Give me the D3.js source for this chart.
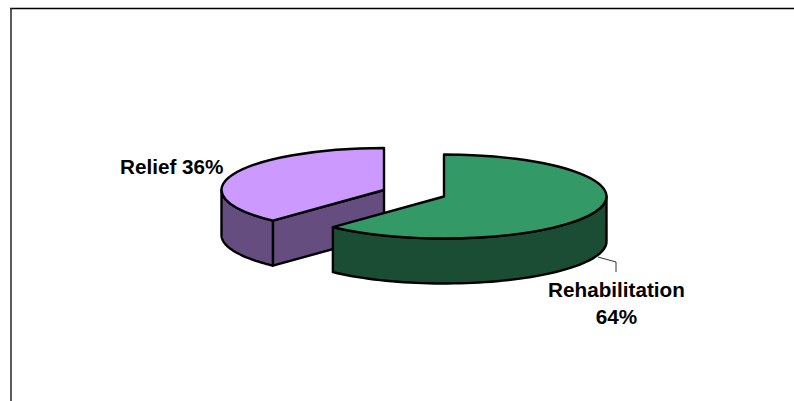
<!DOCTYPE html>
<html>
<head>
<meta charset="utf-8">
<script src="https://cdn.jsdelivr.net/npm/d3@7"></script>
<style>
  html, body { margin: 0; padding: 0; background: #fff; overflow: hidden; }
  svg { display: block; }
  text { font-family: "Liberation Sans", Arial, sans-serif; font-weight: bold; font-size: 20.7px; fill: #000; }
</style>
</head>
<body>
<script>
var categories = ["Rehabilitation", "Relief"];
var shares = [64, 36];
var topColors = ["#339966", "#CC99FF"];
var wallColors = ["#1A4D33", "#664D80"];

var W = 794, H = 401;
var rx = 162.5, ry = 42, depth = 45;
var centers = [[444, 196.5], [384, 190]]; //slices are pulled apart
var squash = 0.775; //foreshortening of angles on the tilted disc

var svg = d3.select("body").append("svg")
    .attr("width", W)
    .attr("height", H);

//frame around the chart area, only top and left edges show
svg.append("line").attr("x1", 10).attr("x2", W).attr("y1", 8.5).attr("y2", 8.5)
    .attr("stroke", "#000").attr("stroke-width", 1.4);
svg.append("line").attr("x1", 11).attr("x2", 11).attr("y1", 8).attr("y2", H)
    .attr("stroke", "#333").attr("stroke-width", 1.6);

//pie angle -> angle on the tilted ellipse
var warp = function(a){
    var b = Math.atan2(squash * Math.sin(a), Math.cos(a));
    return b < 0 ? b + 2 * Math.PI : b;
};

var rim = function(c, a, drop){
    return [c[0] + rx * Math.sin(a), c[1] - ry * Math.cos(a) + (drop || 0)];
};

var slices = d3.pie().sort(null)(shares).map(function(d, i){
    return {
        i: i,
        center: centers[i],
        start: warp(d.startAngle),
        end: warp(d.endAngle)
    };
});

var arc = d3.arc().innerRadius(0).outerRadius(rx);
var line = d3.line();

//curved outer wall between two ellipse angles
var wallPath = function(c, from, to){
    var n = 60;
    var upper = d3.range(n + 1).map(function(k){
        return rim(c, from + (to - from) * k / n);
    });
    var lower = upper.map(function(p){ return [p[0], p[1] + depth]; }).reverse();
    return line(upper.concat(lower)) + "Z";
};

//flat cut face running from the centre out to the rim
var cutPath = function(c, a){
    var tip = rim(c, a);
    return line([c, tip, [tip[0], tip[1] + depth], [c[0], c[1] + depth]]) + "Z";
};

var drawWall = function(g, d, path){
    g.append("path")
        .attr("d", path)
        .attr("fill", wallColors[d.i])
        .attr("stroke", "#000")
        .attr("stroke-width", 2.4)
        .attr("stroke-linejoin", "round");
};

//back slice first so the green one sits over it
var relief = slices[1], rehab = slices[0];

var gRelief = svg.append("g");
drawWall(gRelief, relief, cutPath(relief.center, relief.start));
drawWall(gRelief, relief, wallPath(relief.center, relief.start, 1.5 * Math.PI));
drawTop(gRelief, relief);

var gRehab = svg.append("g");
drawWall(gRehab, rehab, wallPath(rehab.center, 0.5 * Math.PI, rehab.end));
drawTop(gRehab, rehab);

function drawTop(g, d){
    g.append("path")
        .attr("d", arc({startAngle: d.start, endAngle: d.end}))
        .attr("transform", "translate(" + d.center[0] + "," + d.center[1] + ") scale(1," + (ry / rx) + ")")
        .attr("fill", topColors[d.i])
        .attr("stroke", "#000")
        .attr("stroke-width", 2.4)
        .attr("stroke-linejoin", "round")
        .attr("vector-effect", "non-scaling-stroke");
}

//leader from the green wall to its label
svg.append("path")
    .attr("d", line([[598, 257], [616, 262], [616, 272]]))
    .attr("fill", "none")
    .attr("stroke", "#333")
    .attr("stroke-width", 1);

svg.append("text")
    .attr("x", 616.5).attr("y", 297)
    .attr("text-anchor", "middle")
    .text(categories[0]);
svg.append("text")
    .attr("x", 616.5).attr("y", 324)
    .attr("text-anchor", "middle")
    .text(shares[0] + "%");
svg.append("text")
    .attr("x", 120).attr("y", 174)
    .text(categories[1] + " " + shares[1] + "%");
</script>
</body>
</html>
